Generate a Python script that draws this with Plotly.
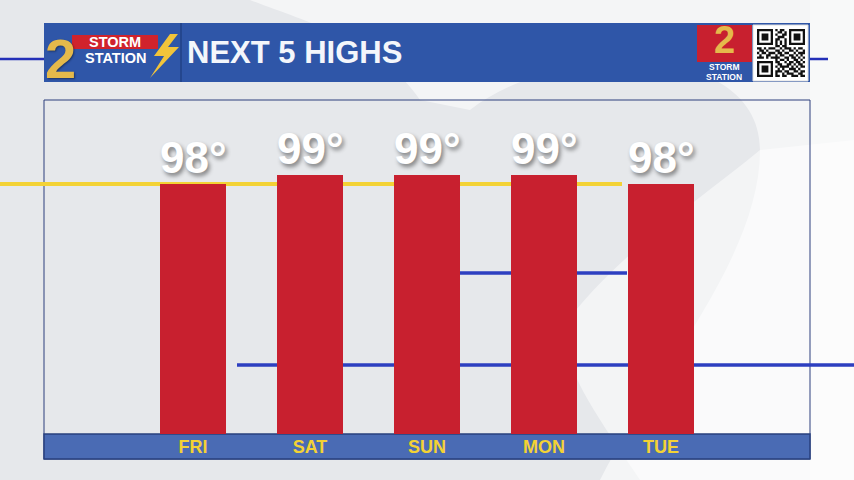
import plotly.graph_objects as go

days = ["FRI", "SAT", "SUN", "MON", "TUE"]
highs = [98, 99, 99, 99, 98]
title = "NEXT 5 HIGHS"

W, H = 854, 480
L, R, T, B = 44, 810, 100, 434   # plot area in pixels
PX_PER_DEG = 9.0
y_lo = 98 - (B - 184) / PX_PER_DEG
y_hi = y_lo + (B - T) / PX_PER_DEG
step = 117.0                       # pixels between bar centres
x_lo = -(193 - L) / step
x_hi = x_lo + (R - L) / step

BLUE = "#2f56a8"
RED = "#c8202f"
GOLD = "#e5b94b"
YEL = "#f3d235"


def px(x):
    return (x - L) / (R - L)


def py(y):
    return (B - y) / (B - T)


def rect(x0, y0, x1, y1, **kw):
    return dict(type="rect", xref="paper", yref="paper",
                x0=px(x0), x1=px(x1), y0=py(y1), y1=py(y0), **kw)


def line(x0, x1, y, color, width=3.5):
    return dict(type="line", xref="paper", yref="paper", layer="below",
                x0=px(x0), x1=px(x1), y0=py(y), y1=py(y),
                line=dict(color=color, width=width))


def path(cmds, **kw):
    # cmds: list of (letter, [x, y, x, y ...]) in pixels
    parts = []
    for c, pts in cmds:
        s = c
        for i in range(0, len(pts), 2):
            s += " %.4f,%.4f" % (px(pts[i]), py(pts[i + 1]))
        parts.append(s)
    return dict(type="path", xref="paper", yref="paper", path=" ".join(parts) + " Z", **kw)


fig = go.Figure(go.Bar(x=days, y=highs, width=66 / step, marker_color=RED,
                       marker_line_width=0, hoverinfo="skip"))

shapes = []
# background swoosh
shapes.append(path([("M", [250, 0]), ("L", [854, 0]), ("L", [854, 480]), ("L", [600, 480]),
                    ("C", [650, 380, 760, 260, 760, 150]),
                    ("C", [760, 40, 560, 40, 470, 110]),
                    ("L", [420, 100]), ("C", [380, 40, 300, 20, 250, 0])],
                   fillcolor="rgba(255,255,255,0.55)", line_width=0, layer="below"))
shapes.append(path([("M", [560, 330]), ("C", [620, 250, 700, 200, 760, 150]),
                    ("L", [854, 140]), ("L", [854, 480]), ("L", [640, 480]),
                    ("C", [600, 420, 570, 380, 560, 330])],
                   fillcolor="rgba(255,255,255,0.5)", line_width=0, layer="below"))
shapes.append(rect(810, 0, 854, 480, fillcolor="rgba(255,255,255,0.4)", line_width=0, layer="below"))
# frame and bottom band
shapes.append(rect(L, T, R, 459, line=dict(color="#2c3f7c", width=1), layer="below"))
shapes.append(rect(L, B, R, 459, fillcolor="#4a6bb4", line=dict(color="#28407e", width=1.5), layer="below"))
# decorative lines
shapes.append(line(0, 622, 184, YEL, 4))
shapes.append(line(459, 627, 273, "#2d3fc0"))
shapes.append(line(237, 854, 365, "#2d3fc0"))
shapes.append(line(0, 44, 59, "#2430b8", 2.5))
shapes.append(line(808, 828, 59, "#2430b8", 2.5))
# header bar
shapes.append(rect(L, 23, R, 82, fillcolor=BLUE, line_width=0))
shapes.append(rect(180, 23, 182, 82, fillcolor="#24468e", line_width=0))
# left logo
shapes.append(rect(72, 35, 158, 49, fillcolor="#d0232c", line_width=0))
bolt = [(170, 34), (154, 56), (164, 56), (150, 78), (179, 47), (168, 47), (178, 34)]
shapes.append(path([("M", list(bolt[0]))] + [("L", list(p)) for p in bolt[1:]],
                   fillcolor="#f2c43a", line_width=0))
# right logo
shapes.append(rect(697, 25, 752, 62, fillcolor="#c8202f", line_width=0))
shapes.append(rect(697, 62, 752, 81, fillcolor="#2f56a8", line_width=0))
shapes.append(rect(753, 25, 808, 81, fillcolor="white", line=dict(color="#dddddd", width=1)))

qr = [
    "111111101011001111111",
    "100000100110101000001",
    "101110101001101011101",
    "101110100111001011101",
    "101110101100101011101",
    "100000101010101000001",
    "111111101010101111111",
    "000000001101100000000",
    "110101110010111010110",
    "011010001101001101001",
    "101101110110110010111",
    "010011001011001101010",
    "111010111100110110101",
    "000000001011010011010",
    "111111101100101101101",
    "100000100110011010110",
    "101110101011110101011",
    "101110100101001110100",
    "101110101110110011011",
    "100000101001011100110",
    "111111101101100111011",
]
cell = 48.0 / 21
qx, qy = 757, 29
qp = []
for r, row in enumerate(qr):
    for c, v in enumerate(row):
        if v == "1":
            x0, y0 = qx + c * cell, qy + r * cell
            qp.append("M %.4f,%.4f L %.4f,%.4f L %.4f,%.4f L %.4f,%.4f Z" % (
                px(x0), py(y0), px(x0 + cell), py(y0), px(x0 + cell), py(y0 + cell), px(x0), py(y0 + cell)))
shapes.append(dict(type="path", xref="paper", yref="paper", path=" ".join(qp),
                   fillcolor="#111111", line_width=0))

ann = []
FONT = "Liberation Sans, Arial, sans-serif"


def label(x, y, text, size, color, anchor="center", **font):
    ann.append(dict(x=px(x), y=py(y), xref="paper", yref="paper", xanchor=anchor, yanchor="middle",
                    text="<b>%s</b>" % text, showarrow=False, borderpad=0,
                    font=dict(family=FONT, size=size, color=color, **font)))


label(186, 53, title, 31, "#f4f6fb", anchor="left")
label(60, 58, "2", 56, GOLD, shadow="1px 1px 2px rgba(0,0,0,0.4)")
label(115, 41.5, "STORM", 14.5, "white")
label(115, 57.5, "STATION", 14.5, "white")
label(724, 40, "2", 38, GOLD)
label(724, 67, "STORM", 8.5, "white")
label(724, 77, "STATION", 8.5, "white")

for d, v in zip(days, highs):
    ann.append(dict(x=d, y=v, xref="x", yref="y", xanchor="center", yanchor="bottom",
                    yshift=0, text="<b>%d°</b>" % v, showarrow=False,
                    font=dict(family=FONT, size=44, color="white",
                              shadow="2px 3px 4px rgba(0,0,0,0.45)")))

fig.update_layout(
    width=W, height=H,
    margin=dict(l=L, r=W - R, t=T, b=H - B, pad=0),
    paper_bgcolor="#e6e8eb",
    plot_bgcolor="rgba(0,0,0,0)",
    showlegend=False,
    bargap=0,
    shapes=shapes,
    annotations=ann,
    xaxis=dict(range=[x_lo, x_hi], showgrid=False, zeroline=False, showline=False,
               ticks="", tickfont=dict(family=FONT, size=18, color=YEL, weight="bold"),
               ticklabelstandoff=0, fixedrange=True),
    yaxis=dict(range=[y_lo, y_hi], visible=False, fixedrange=True),
)

fig.write_html("out.html", config={"displayModeBar": False},
               post_script="document.body.style.margin='0';")
